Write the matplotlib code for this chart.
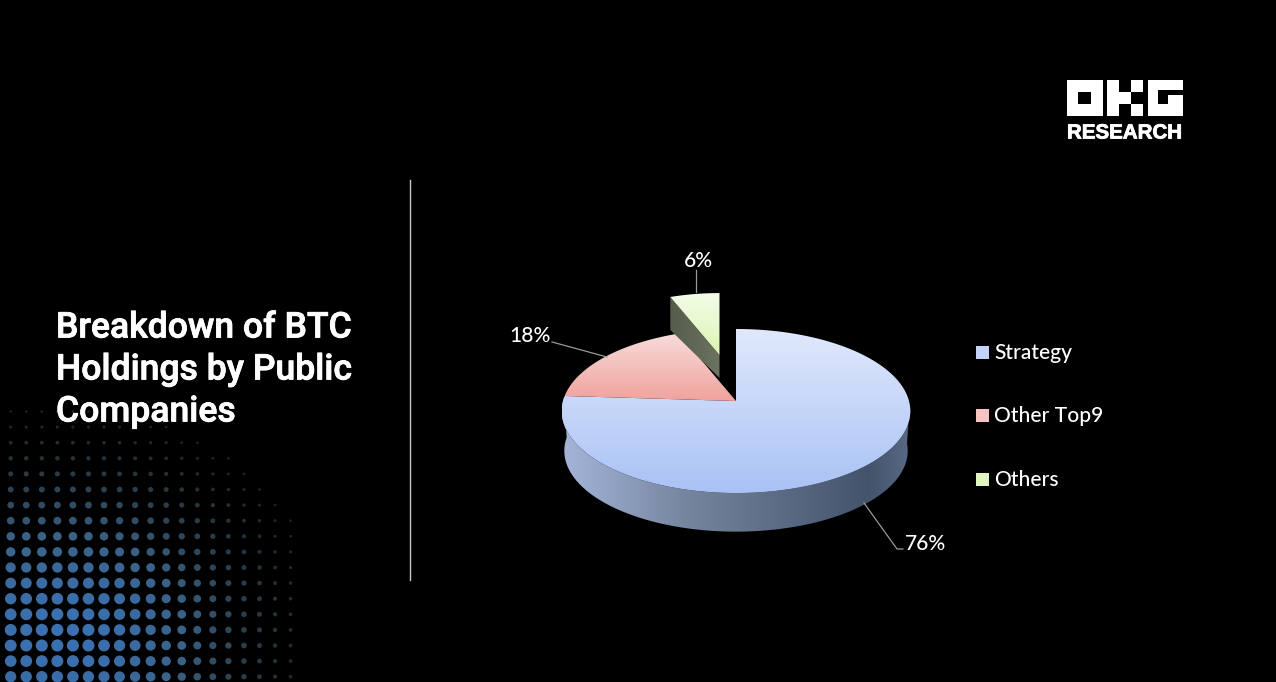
import numpy as np
import matplotlib
matplotlib.use("Agg")
import matplotlib.pyplot as plt
import matplotlib.patheffects as pe
from matplotlib.colors import LinearSegmentedColormap
from matplotlib.patches import Polygon, Rectangle, Circle

# ---- data ----
categories = ["Strategy", "Other Top9", "Others"]
shares = [76, 18, 6]
share_labels = ["76%", "18%", "6%"]
legend_colors = ["#c3d3f7", "#f5c4c2", "#e0f5c0"]
title_lines = ["Breakdown of BTC", "Holdings by Public", "Companies"]

W, H = 1276, 682
fig = plt.figure(figsize=(W / 100, H / 100), dpi=100, facecolor="black")
ax = fig.add_axes([0, 0, 1, 1])
ax.set_xlim(0, W)
ax.set_ylim(H, 0)
ax.axis("off")

PX = 72 / 100
thicken = [pe.withStroke(linewidth=0.6, foreground="white")]


def project(theta_deg, r=1.0, cx=736.0, cy=401.0, scale=1.0):
    """Perspective projection of the pie disc; theta clockwise from 12 o'clock."""
    t = np.radians(theta_deg)
    u, s = r * np.sin(t), -r * np.cos(t)
    k = 0.122
    d = 1 - k * s
    return cx + scale * 173 * u / d, cy + scale * 80.8 * s / d


def sector(a0, a1, **kw):
    th = np.linspace(a0, a1, 160)
    x, y = project(th, **kw)
    cx, cy = kw.get("cx", 736.0), kw.get("cy", 401.0)
    return np.column_stack([np.r_[cx, x], np.r_[cy, y]])


def grad_fill(poly, stops, horizontal=False, z=2):
    xmin, ymin = poly.min(axis=0)
    xmax, ymax = poly.max(axis=0)
    g = np.linspace(0, 1, 256)
    g = g[None, :] if horizontal else g[:, None]
    cmap = LinearSegmentedColormap.from_list("g", stops)
    im = ax.imshow(g, cmap=cmap, extent=(xmin, xmax, ymax, ymin), aspect="auto",
                   zorder=z, vmin=0, vmax=1, interpolation="bilinear")
    p = Polygon(poly, closed=True, transform=ax.transData, fc="none", ec="none")
    ax.add_patch(p)
    im.set_clip_path(p)


# ---- halftone background ----
xs = 10.7 + 15.55 * np.arange(19)
ys = 676.7 - 15.6 * np.arange(18)
base = np.array([0.23, 0.44, 0.69])
grey = np.array([0.22, 0.30, 0.32])
for xd in xs:
    for yd in ys:
        wx = 150 if xd > 70 else 300
        f = np.exp(-((xd - 70) / wx) ** 2 - ((yd - 635) / 130) ** 2)
        if f < 0.05:
            continue
        r = 0.5 + 5.6 * f ** 0.65
        c = grey * (1 - f) + base * f
        alpha = min(1, 0.3 + 1.0 * f ** 0.6)
        ax.add_patch(Circle((xd, yd), r, fc=(*c, alpha), ec="none", zorder=1))

# ---- title and divider ----
for line, y in zip(title_lines, [328, 370, 412]):
    ax.text(56, y, line, color="white", fontsize=35.5 * PX, family="Roboto",
            fontweight="medium", va="center", ha="left", zorder=5, path_effects=thicken)
ax.plot([410, 410], [180, 580], color="#c8c8c8", lw=1.0, zorder=3)

# ---- pie ----
edges = np.cumsum([0] + shares) * 3.6
a_main0, a_main1 = edges[0], edges[1]
a_oth0, a_oth1 = edges[1], edges[2]
a_x0, a_x1 = edges[2], edges[3]

# front wall of the disc (lower rim + upper rim)
th = np.linspace(92, 272.5, 200)
xt, yt = project(th)
xb, yb = project(th, cy=441.0, scale=0.985)
wall = np.column_stack([np.r_[xt, xb[::-1]], np.r_[yt, yb[::-1]]])
grad_fill(wall, [(0, "#a5b5da"), (0.35, "#76869f"), (0.88, "#43536c"), (1, "#5a6a84")],
          horizontal=True, z=2)

# top faces
grad_fill(sector(a_main0, a_main1), ["#e1e9fb", "#a9c2f5"], z=3)
grad_fill(sector(a_oth0, a_oth1), ["#f7dcdc", "#f0a29c"], z=3)

# exploded slice
ex = dict(cx=719.5, cy=355.0, scale=0.86)
xl, yl = project(a_x0, **ex)
face = np.array([[719.5, 355], [xl, yl], [xl, yl + 33], [719.5, 378]])
grad_fill(face, ["#555c49", "#6c7360"], horizontal=True, z=3)
grad_fill(sector(a_x0, a_x1, **ex), ["#f3fce8", "#dcf5b4"], z=4)

# ---- leader lines and labels ----
ax.plot([696, 696], [270, 292], color="#9a9a9a", lw=0.9, zorder=5)
ax.plot([552, 607], [342, 357], color="#9a9a9a", lw=0.9, zorder=5)
ax.plot([864, 897, 903], [503, 549, 549], color="#9a9a9a", lw=0.9, zorder=5)
for lab, (x, y) in zip(share_labels, [(925, 544), (530, 336), (698, 261)]):
    ax.text(x, y, lab, color="white", fontsize=21 * PX, family="Lato", fontweight="medium",
            ha="center", va="center", zorder=6)

# ---- legend ----
for name, col, y in zip(categories, legend_colors, [352, 415, 479]):
    ax.add_patch(Rectangle((976, y - 6.5), 13, 13, fc=col, ec="none", zorder=5))
    ax.text(994, y + 1, name, color="white", fontsize=21 * PX, family="Lato", fontweight="medium",
            ha="left", va="center", zorder=6)

# ---- logo ----
logo_blocks = [
    # O
    (1066.5, 80, 36, 12), (1066.5, 104, 36, 12), (1066.5, 92, 11, 12), (1090.5, 92, 12, 12),
    # K
    (1107, 80, 12, 36), (1119, 92, 12, 12), (1131, 80, 12, 12), (1131, 104, 12, 12),
    # G
    (1148, 80, 35, 10), (1148, 90, 10, 26), (1158, 104, 25, 12), (1168, 95, 15, 9),
]
for x, y, w, h in logo_blocks:
    ax.add_patch(Rectangle((x, y), w, h, fc="white", ec="none", zorder=5))
ax.text(1124.5, 133, "RESEARCH", color="white", fontsize=20.5 * PX, family="Liberation Sans",
        fontweight="bold", ha="center", va="center", zorder=5, path_effects=thicken)

ax.set_xlim(0, W)
ax.set_ylim(H, 0)
fig.savefig("out.png", dpi=100, facecolor="black")
